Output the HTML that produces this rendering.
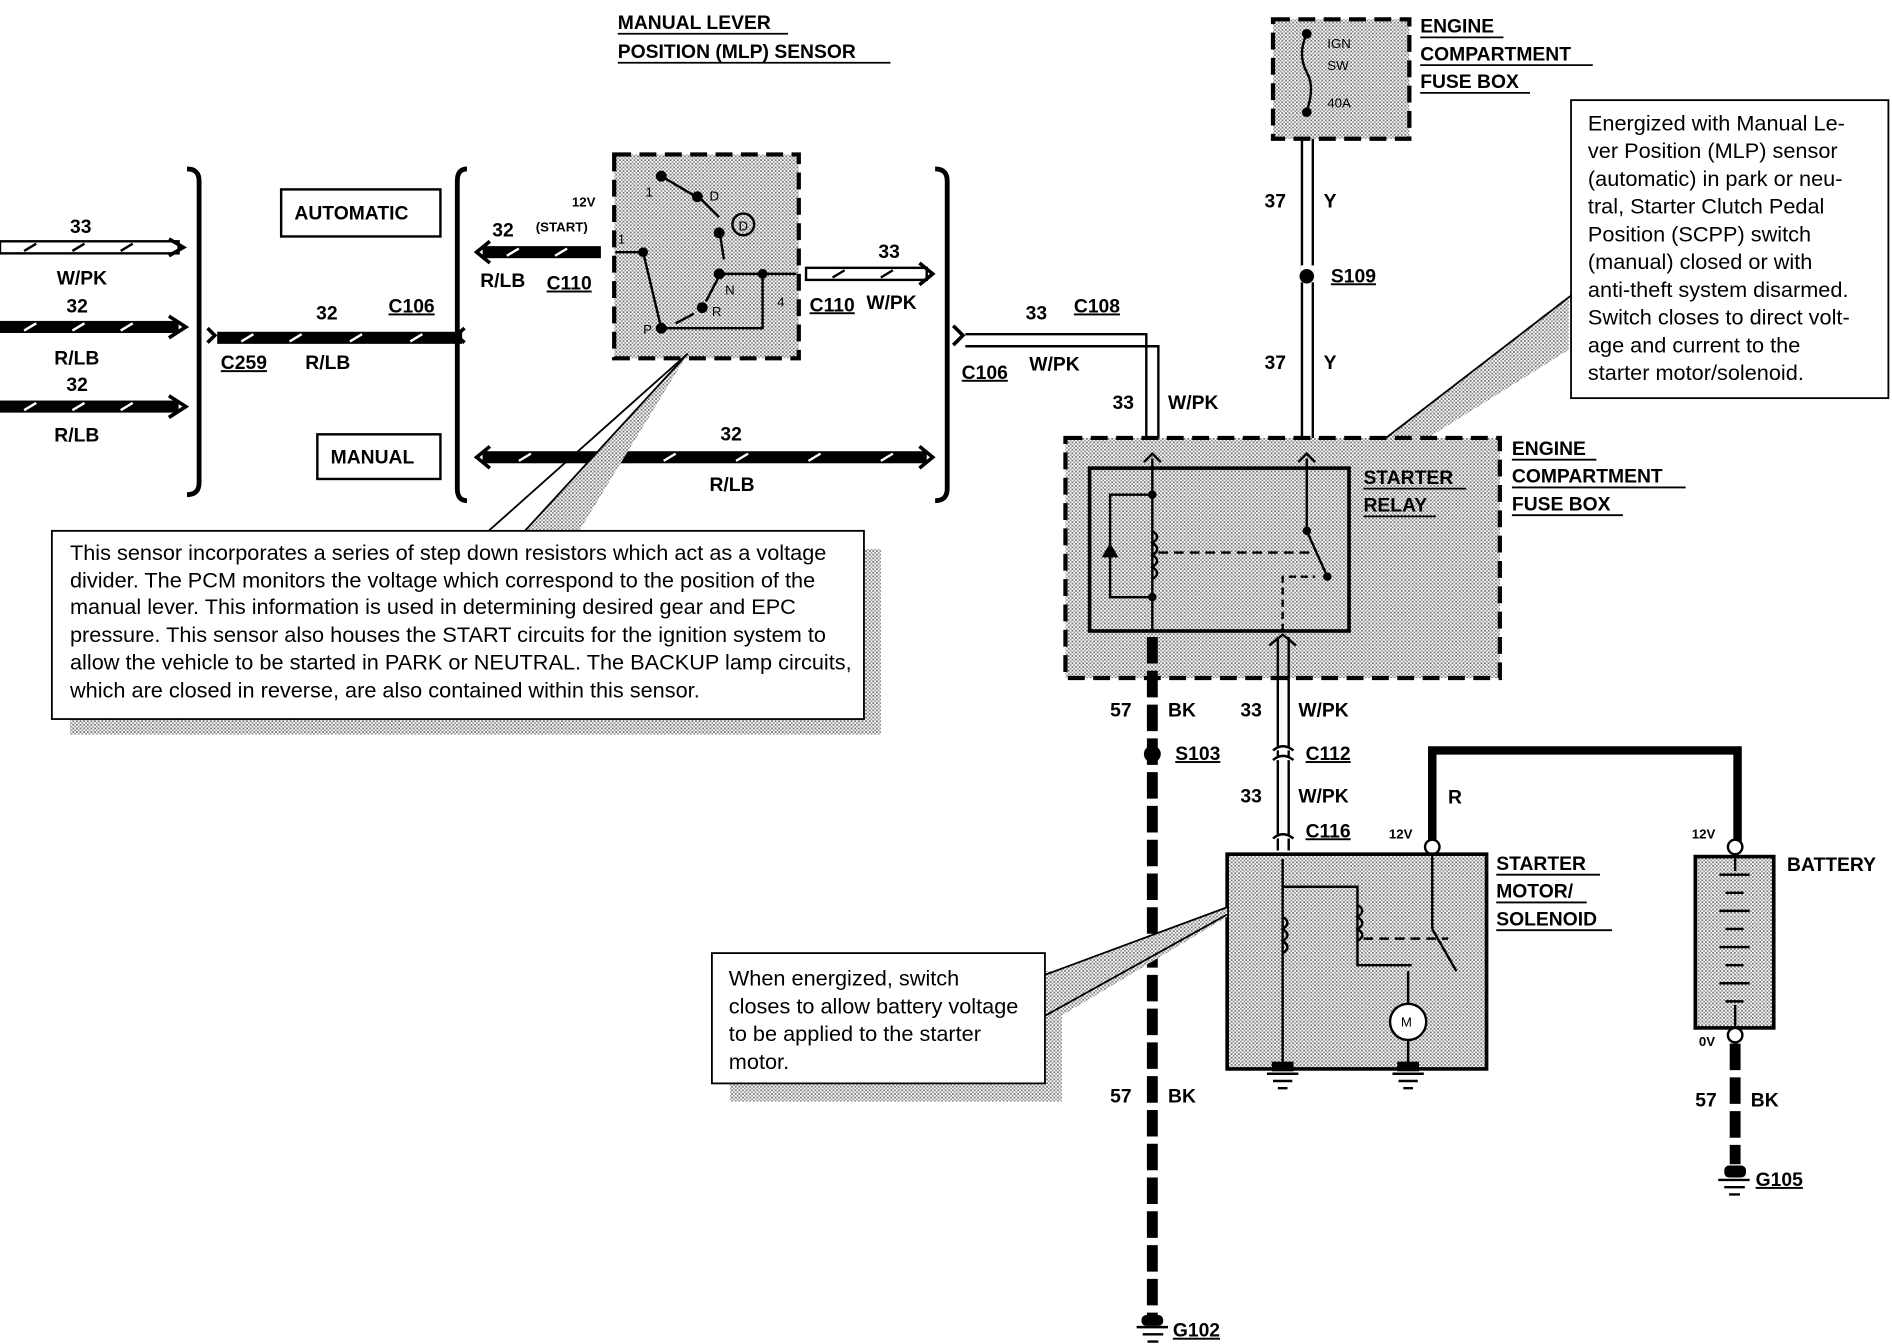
<!DOCTYPE html>
<html><head><meta charset="utf-8"><style>
html,body{margin:0;padding:0;background:#fff}
svg{display:block}
text{font-family:"Liberation Sans",Arial,sans-serif;font-weight:bold;font-size:16px;fill:#000}
.n{font-weight:normal;font-size:18px}
.s{font-size:11px;font-weight:normal}
</style></head><body>
<svg width="1892" height="1344" viewBox="0 0 1568 1114" preserveAspectRatio="none" xmlns="http://www.w3.org/2000/svg">
<defs>
<pattern id="dot" width="3" height="3" patternUnits="userSpaceOnUse"><rect width="3" height="3" fill="#fff"/><rect width="1.5" height="1.5" fill="#777"/><rect x="1.5" y="1.5" width="1.5" height="1.5" fill="#999"/></pattern>
</defs>
<g stroke="#000" fill="none">
<line x1="512" y1="28" x2="653" y2="28" stroke-width="1.5"/>
<line x1="512" y1="52" x2="738" y2="52" stroke-width="1.5"/>
<path d="M155 140 Q165 140 165 150 L165 400 Q165 410 155 410" stroke-width="4"/>
<path d="M387 140 Q379 140 379 150 L379 405 Q379 415 387 415" stroke-width="4"/>
<path d="M775 140 Q785 140 785 150 L785 405 Q785 415 775 415" stroke-width="4"/>
<path d="M172 272 L178 278 L172 284" stroke-width="3"/>
<path d="M385 272 L378 278 L385 284" stroke-width="3"/>
<path d="M790 270 L798 278 L790 286" stroke-width="3"/>
</g>
<g>
<rect x="0" y="200" width="148" height="10" fill="#fff" stroke="#000" stroke-width="2"/>
<path d="M140 198 L152 205 L140 212" fill="none" stroke="#000" stroke-width="3"/>
<rect x="0" y="266" width="148" height="10" fill="#000"/>
<path d="M140 262 L154 271 L140 280" fill="none" stroke="#000" stroke-width="3"/>
<rect x="0" y="332" width="148" height="10" fill="#000"/>
<path d="M140 328 L154 337 L140 346" fill="none" stroke="#000" stroke-width="3"/>
<rect x="180" y="275" width="203" height="10" fill="#000"/>
<rect x="400" y="204" width="98" height="10" fill="#000"/>
<path d="M406 200 L395 209 L406 218" fill="none" stroke="#000" stroke-width="3"/>
<rect x="668" y="222" width="100" height="10" fill="#fff" stroke="#000" stroke-width="2"/>
<path d="M762 218 L773 227 L762 236" fill="none" stroke="#000" stroke-width="3"/>
<rect x="400" y="374" width="368" height="10" fill="#000"/>
<path d="M406 370 L395 379 L406 388" fill="none" stroke="#000" stroke-width="3"/>
<path d="M762 370 L773 379 L762 388" fill="none" stroke="#000" stroke-width="3"/>
</g>
<g stroke="#fff" stroke-width="2">
<line x1="20" y1="274" x2="30" y2="268"/><line x1="60" y1="274" x2="70" y2="268"/><line x1="100" y1="274" x2="110" y2="268"/>
<line x1="20" y1="340" x2="30" y2="334"/><line x1="60" y1="340" x2="70" y2="334"/><line x1="100" y1="340" x2="110" y2="334"/>
<line x1="200" y1="283" x2="210" y2="277"/><line x1="240" y1="283" x2="250" y2="277"/><line x1="290" y1="283" x2="300" y2="277"/><line x1="340" y1="283" x2="350" y2="277"/>
<line x1="420" y1="212" x2="430" y2="206"/><line x1="460" y1="212" x2="470" y2="206"/>
<line x1="430" y1="382" x2="440" y2="376"/><line x1="490" y1="382" x2="500" y2="376"/><line x1="550" y1="382" x2="560" y2="376"/><line x1="610" y1="382" x2="620" y2="376"/><line x1="670" y1="382" x2="680" y2="376"/><line x1="730" y1="382" x2="740" y2="376"/>
</g>
<g stroke="#000" stroke-width="2">
<line x1="20" y1="208" x2="30" y2="202"/><line x1="60" y1="208" x2="70" y2="202"/><line x1="100" y1="208" x2="110" y2="202"/>
<line x1="690" y1="230" x2="700" y2="224"/><line x1="730" y1="230" x2="740" y2="224"/>
</g>
<rect x="233" y="157" width="132" height="39" fill="#fff" stroke="#000" stroke-width="2"/>
<rect x="263" y="360" width="102" height="37" fill="#fff" stroke="#000" stroke-width="2"/>
<rect x="509" y="128" width="153" height="169" fill="url(#dot)" stroke="#000" stroke-width="3.5" stroke-dasharray="14,7"/>
<g stroke="#000" stroke-width="2" fill="none">
<line x1="510" y1="209" x2="533" y2="209"/>
<path d="M533 209 L548 272 L632 272 L632 227 L595 227"/>
<line x1="632" y1="227" x2="660" y2="227"/>
<line x1="548" y1="146" x2="575" y2="162"/>
<line x1="580" y1="164" x2="596" y2="180"/>
<line x1="596" y1="190" x2="600" y2="215"/>
<line x1="597" y1="227" x2="585" y2="250"/>
<line x1="575" y1="260" x2="560" y2="268"/>
<circle cx="616" cy="186" r="9"/>
</g>
<g fill="#000"><circle cx="548" cy="146" r="4.5"/><circle cx="578" cy="163" r="4.5"/><circle cx="596" cy="193" r="4.5"/><circle cx="596" cy="227" r="4.5"/><circle cx="632" cy="227" r="4"/><circle cx="533" cy="209" r="4"/><circle cx="548" cy="272" r="4.5"/><circle cx="582" cy="255" r="4.5"/></g>
<text class="s" x="535" y="163">1</text><text class="s" x="588" y="166">D</text><text class="s" x="612" y="191">D</text><text class="s" x="601" y="244">N</text><text class="s" x="590" y="262">R</text><text class="s" x="533" y="277">P</text><text class="s" x="644" y="254">4</text><text class="s" x="512" y="202">1</text>
<rect x="58" y="455" width="672" height="154" fill="url(#dot)"/>
<polygon points="570,293 435,440 480,440" fill="url(#dot)"/>
<line x1="570" y1="293" x2="405" y2="440" stroke="#000" stroke-width="1.5"/>
<line x1="570" y1="293" x2="435" y2="440" stroke="#000" stroke-width="1.5"/>
<rect x="43" y="440" width="673" height="156" fill="#fff" stroke="#000" stroke-width="1.5"/>
<text class="n" x="58" y="464">This sensor incorporates a series of step down resistors which act as a voltage</text>
<text class="n" x="58" y="487">divider. The PCM monitors the voltage which correspond to the position of the</text>
<text class="n" x="58" y="509">manual lever. This information is used in determining desired gear and EPC</text>
<text class="n" x="58" y="532">pressure. This sensor also houses the START circuits for the ignition system to</text>
<text class="n" x="58" y="555">allow the vehicle to be started in PARK or NEUTRAL. The BACKUP lamp circuits,</text>
<text class="n" x="58" y="578">which are closed in reverse, are also contained within this sensor.</text>
<path d="M800 277 L950 277 L950 380" fill="none" stroke="#000" stroke-width="2"/>
<path d="M800 287 L960 287 L960 380" fill="none" stroke="#000" stroke-width="2"/>
<rect x="1055" y="16" width="113" height="99" fill="url(#dot)" stroke="#000" stroke-width="3.5" stroke-dasharray="14,7"/>
<path d="M1083 28 Q1075 45 1083 60 Q1090 72 1083 92" fill="none" stroke="#000" stroke-width="2"/>
<circle cx="1083" cy="28" r="4" fill="#000"/><circle cx="1083" cy="93" r="4" fill="#000"/>
<text class="s" x="1100" y="40">IGN</text><text class="s" x="1100" y="58">SW</text><text class="s" x="1100" y="89">40A</text>
<line x1="1079" y1="115" x2="1079" y2="380" stroke="#000" stroke-width="2"/>
<line x1="1088" y1="115" x2="1088" y2="380" stroke="#000" stroke-width="2"/>
<rect x="1078" y="220" width="11" height="14" fill="#fff"/>
<circle cx="1083" cy="229" r="6" fill="#000"/>
<polygon points="1120,385 1300,245 1300,290 1140,390" fill="url(#dot)"/>
<line x1="1120" y1="385" x2="1302" y2="245" stroke="#000" stroke-width="1.5"/>
<rect x="1302" y="83" width="263" height="247" fill="#fff" stroke="#000" stroke-width="1.5"/>
<text class="n" x="1316" y="108">Energized with Manual Le-</text>
<text class="n" x="1316" y="131">ver Position (MLP) sensor</text>
<text class="n" x="1316" y="154">(automatic) in park or neu-</text>
<text class="n" x="1316" y="177">tral, Starter Clutch Pedal</text>
<text class="n" x="1316" y="200">Position (SCPP) switch</text>
<text class="n" x="1316" y="223">(manual) closed or with</text>
<text class="n" x="1316" y="246">anti-theft system disarmed.</text>
<text class="n" x="1316" y="269">Switch closes to direct volt-</text>
<text class="n" x="1316" y="292">age and current to the</text>
<text class="n" x="1316" y="315">starter motor/solenoid.</text>
<rect x="883" y="363" width="360" height="199" fill="url(#dot)" stroke="#000" stroke-width="3.5" stroke-dasharray="14,7"/>
<rect x="903" y="388" width="215" height="135" fill="url(#dot)" stroke="#000" stroke-width="3"/>
<g stroke="#000" stroke-width="2" fill="none">
<line x1="955" y1="380" x2="955" y2="523"/>
<path d="M955 410 L920 410 L920 495 L955 495"/>
<path d="M955 440 Q963 445 955 450 Q963 455 955 460 Q963 465 955 470 Q963 475 955 480"/>
<line x1="1083" y1="380" x2="1083" y2="440"/>
<line x1="1083" y1="440" x2="1100" y2="478"/>
<path d="M1063 523 L1063 478 L1090 478" stroke-dasharray="6,4"/>
<line x1="960" y1="458" x2="1090" y2="458" stroke-dasharray="8,5"/>
</g>
<polygon points="913,462 927,462 920,450" fill="#000"/>
<g fill="#000"><circle cx="955" cy="410" r="3.5"/><circle cx="955" cy="495" r="3.5"/><circle cx="1083" cy="440" r="3.5"/><circle cx="1100" cy="478" r="3.5"/></g>
<path d="M948 383 L955 376 L962 383 M1076 383 L1083 376 L1090 383" fill="none" stroke="#000" stroke-width="2"/>
<line x1="955" y1="528" x2="955" y2="1095" stroke="#000" stroke-width="9" stroke-dasharray="22,6"/>
<circle cx="955" cy="625" r="7" fill="#000"/>
<line x1="1059" y1="528" x2="1059" y2="705" stroke="#000" stroke-width="2"/>
<line x1="1068" y1="528" x2="1068" y2="705" stroke="#000" stroke-width="2"/>
<path d="M1055 622 Q1063 615 1072 622 M1055 630 Q1063 623 1072 630 M1055 695 Q1063 688 1072 695" fill="#fff" stroke="#000" stroke-width="2"/>
<path d="M1052 535 L1063 526 L1074 535" fill="none" stroke="#000" stroke-width="2"/>
<path d="M1187 700 L1187 622 L1440 622 L1440 700" fill="none" stroke="#000" stroke-width="7"/>
<circle cx="1187" cy="702" r="6" fill="#fff" stroke="#000" stroke-width="2"/>
<circle cx="1438" cy="702" r="6" fill="#fff" stroke="#000" stroke-width="2"/>
<rect x="1017" y="708" width="215" height="178" fill="url(#dot)" stroke="#000" stroke-width="3"/>
<g stroke="#000" stroke-width="2" fill="none">
<line x1="1063" y1="712" x2="1063" y2="886"/>
<path d="M1063 735 L1125 735 L1125 800 L1170 800"/>
<path d="M1063 760 Q1071 765 1063 770 Q1071 775 1063 780 Q1071 785 1063 790"/>
<path d="M1125 750 Q1133 755 1125 760 Q1133 765 1125 770 Q1133 775 1125 780"/>
<line x1="1187" y1="708" x2="1187" y2="770"/>
<line x1="1187" y1="770" x2="1207" y2="805"/>
<line x1="1130" y1="778" x2="1200" y2="778" stroke-dasharray="8,5"/>
<line x1="1167" y1="805" x2="1167" y2="886"/>
<circle cx="1167" cy="847" r="15" fill="#fff"/>
</g>
<text class="s" x="1161" y="851">M</text>
<g stroke="#000" stroke-width="2" fill="none">
<path d="M1050 890 L1076 890 M1055 896 L1071 896 M1059 902 L1067 902"/>
<path d="M1154 890 L1180 890 M1159 896 L1175 896 M1163 902 L1171 902"/>
</g>
<rect x="1054" y="880" width="18" height="8" fill="#000"/><rect x="1158" y="880" width="18" height="8" fill="#000"/>
<rect x="1405" y="710" width="65" height="142" fill="url(#dot)" stroke="#000" stroke-width="3"/>
<g stroke="#000" stroke-width="2"><line x1="1425" y1="725" x2="1450" y2="725"/><line x1="1430" y1="740" x2="1445" y2="740"/><line x1="1425" y1="755" x2="1450" y2="755"/><line x1="1430" y1="770" x2="1445" y2="770"/><line x1="1425" y1="785" x2="1450" y2="785"/><line x1="1430" y1="800" x2="1445" y2="800"/><line x1="1425" y1="815" x2="1450" y2="815"/><line x1="1430" y1="830" x2="1445" y2="830"/><line x1="1438" y1="710" x2="1438" y2="722"/><line x1="1438" y1="833" x2="1438" y2="852"/></g>
<line x1="1438" y1="865" x2="1438" y2="965" stroke="#000" stroke-width="9" stroke-dasharray="22,6"/>
<circle cx="1438" cy="858" r="6" fill="#fff" stroke="#000" stroke-width="2"/>
<g stroke="#000" stroke-width="2"><path d="M1424 978 L1450 978 M1429 984 L1446 984 M1433 990 L1442 990"/><path d="M942 1100 L968 1100 M947 1106 L964 1106 M951 1112 L960 1112"/></g>
<rect x="1429" y="966" width="18" height="10" fill="#000" rx="4"/><rect x="946" y="1090" width="18" height="9" fill="#000" rx="4"/>
<polygon points="1017,752 866,808 866,850 1017,760" fill="url(#dot)"/>
<rect x="605" y="805" width="275" height="108" fill="url(#dot)"/>
<line x1="1017" y1="752" x2="866" y2="808" stroke="#000" stroke-width="1.5"/>
<line x1="1017" y1="758" x2="866" y2="842" stroke="#000" stroke-width="1.5"/>
<rect x="590" y="790" width="276" height="108" fill="#fff" stroke="#000" stroke-width="1.5"/>
<text class="n" x="604" y="817">When energized, switch</text>
<text class="n" x="604" y="840">closes to allow battery voltage</text>
<text class="n" x="604" y="863">to be applied to the starter</text>
<text class="n" x="604" y="886">motor.</text>
<text x="512" y="24">MANUAL LEVER</text>
<text x="512" y="48">POSITION (MLP) SENSOR</text>
<text x="58" y="193">33</text><text x="47" y="236">W/PK</text>
<text x="55" y="259">32</text><text x="45" y="302">R/LB</text>
<text x="55" y="324">32</text><text x="45" y="366">R/LB</text>
<text x="244" y="182">AUTOMATIC</text><text x="274" y="384">MANUAL</text>
<text x="262" y="265">32</text><text x="322" y="259" text-decoration="underline">C106</text>
<text x="183" y="306" text-decoration="underline">C259</text><text x="253" y="306">R/LB</text>
<text x="408" y="196">32</text><text x="398" y="238">R/LB</text><text x="453" y="240" text-decoration="underline">C110</text>
<text class="s" style="font-weight:bold" x="474" y="171">12V</text><text class="s" style="font-weight:bold" x="444" y="192">(START)</text>
<text x="728" y="214">33</text><text x="671" y="258" text-decoration="underline">C110</text><text x="718" y="256">W/PK</text>
<text x="597" y="365">32</text><text x="588" y="407">R/LB</text>
<text x="850" y="265">33</text><text x="890" y="259" text-decoration="underline">C108</text>
<text x="797" y="314" text-decoration="underline">C106</text><text x="853" y="307">W/PK</text>
<text x="922" y="339">33</text><text x="968" y="339">W/PK</text>
<text x="1177" y="27">ENGINE</text><text x="1177" y="50">COMPARTMENT</text><text x="1177" y="73">FUSE BOX</text>
<g stroke="#000" stroke-width="1.5"><line x1="1177" y1="31" x2="1246" y2="31"/><line x1="1177" y1="54" x2="1320" y2="54"/><line x1="1177" y1="77" x2="1268" y2="77"/></g>
<text x="1048" y="172">37</text><text x="1097" y="172">Y</text><text x="1103" y="234" text-decoration="underline">S109</text>
<text x="1048" y="306">37</text><text x="1097" y="306">Y</text>
<text x="1130" y="401">STARTER</text><text x="1130" y="424">RELAY</text>
<g stroke="#000" stroke-width="1.5"><line x1="1130" y1="405" x2="1215" y2="405"/><line x1="1130" y1="428" x2="1190" y2="428"/></g>
<text x="1253" y="377">ENGINE</text><text x="1253" y="400">COMPARTMENT</text><text x="1253" y="423">FUSE BOX</text>
<g stroke="#000" stroke-width="1.5"><line x1="1253" y1="381" x2="1323" y2="381"/><line x1="1253" y1="404" x2="1397" y2="404"/><line x1="1253" y1="427" x2="1345" y2="427"/></g>
<text x="920" y="594">57</text><text x="968" y="594">BK</text>
<text x="1028" y="594">33</text><text x="1076" y="594">W/PK</text>
<text x="974" y="630" text-decoration="underline">S103</text><text x="1082" y="630" text-decoration="underline">C112</text>
<text x="1028" y="665">33</text><text x="1076" y="665">W/PK</text><text x="1082" y="694" text-decoration="underline">C116</text>
<text x="1200" y="666">R</text>
<text class="s" style="font-weight:bold" x="1151" y="695">12V</text><text class="s" style="font-weight:bold" x="1402" y="695">12V</text>
<text class="s" style="font-weight:bold" x="1408" y="867">0V</text>
<text x="1240" y="721">STARTER</text><text x="1240" y="744">MOTOR/</text><text x="1240" y="767">SOLENOID</text>
<g stroke="#000" stroke-width="1.5"><line x1="1240" y1="725" x2="1326" y2="725"/><line x1="1240" y1="748" x2="1315" y2="748"/><line x1="1240" y1="771" x2="1336" y2="771"/></g>
<text x="1481" y="722">BATTERY</text>
<text x="920" y="914">57</text><text x="968" y="914">BK</text>
<text x="1405" y="917">57</text><text x="1451" y="917">BK</text>
<text x="1455" y="983" text-decoration="underline">G105</text>
<text x="972" y="1108" text-decoration="underline">G102</text>
</svg>
</body></html>
